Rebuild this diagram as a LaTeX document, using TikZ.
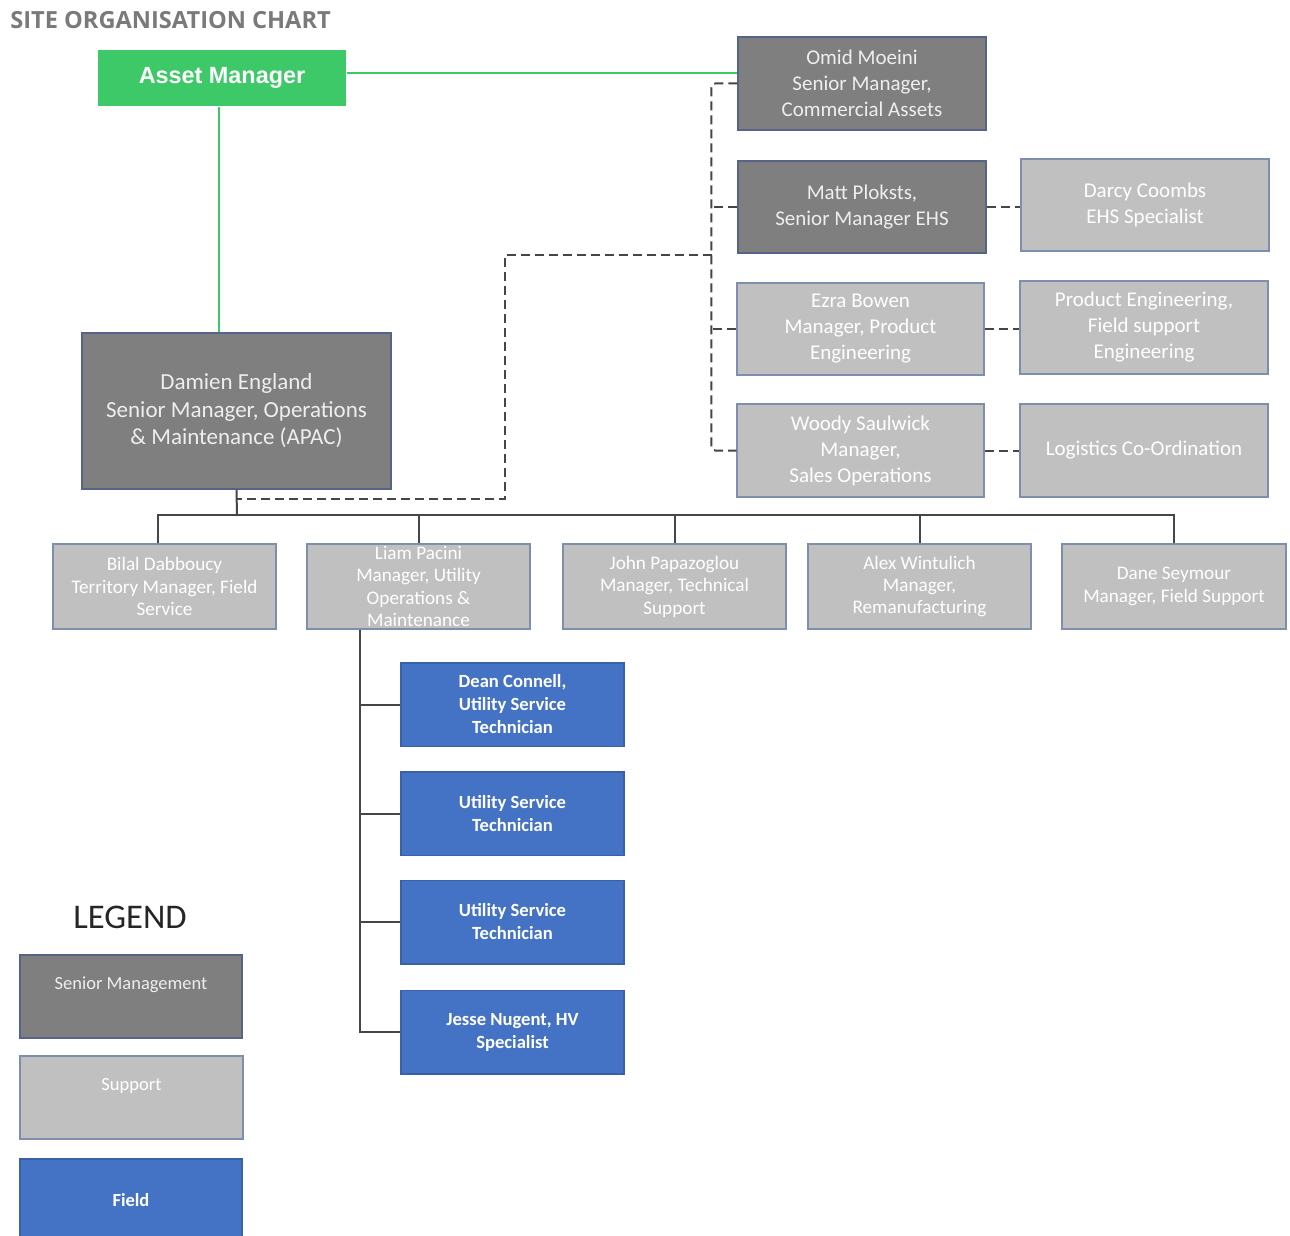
\documentclass[tikz,border=0pt]{standalone}
\usepackage{fontspec}
\setmainfont{Carlito}
\newfontfamily\arialfont{Liberation Sans}
\newfontfamily\titlefont{Open Sans}
\usetikzlibrary{calc}
\definecolor{assetgreen}{RGB}{61,201,103}
\definecolor{srgray}{RGB}{127,127,127}
\definecolor{supgray}{RGB}{192,192,192}
\definecolor{fieldblue}{RGB}{68,114,196}
\definecolor{srborder}{RGB}{85,100,135}
\definecolor{supborder}{RGB}{125,142,175}
\definecolor{linecol}{RGB}{70,70,70}
\definecolor{titlegray}{RGB}{122,122,122}
\definecolor{srtext}{RGB}{238,238,238}
\begin{document}
\begin{tikzpicture}[x=0.5pt,y=-0.5pt,
  base/.style={draw, line width=0.75pt, inner sep=0pt, align=center, anchor=center},
  senior/.style={base, draw=srborder, fill=srgray, text=srtext, font=\fontsize{10.5}{13}\selectfont},
  support/.style={base, draw=supborder, fill=supgray, text=white, font=\fontsize{10.5}{13}\selectfont},
  rowbox/.style={support, minimum width=111.5pt, minimum height=42.5pt, font=\fontsize{9.6}{11.2}\selectfont},
  field/.style={base, draw=fieldblue!85!black, fill=fieldblue, text=white, minimum width=111.5pt, minimum height=41.75pt, font=\bfseries\fontsize{9.3}{11.5}\selectfont},
  conn/.style={draw=linecol, line width=1pt},
  dconn/.style={draw=linecol, line width=1pt, dash pattern=on 4.5pt off 2.5pt},
  greenline/.style={draw=assetgreen, line width=1pt}
]
\useasboundingbox (0,0) rectangle (1290,1236);
\fill[white] (0,0) rectangle (1290,1236);

% title
\node[anchor=west, inner sep=0pt, font=\titlefont\bfseries\fontsize{11.8}{14}\selectfont, text=titlegray] (title) at (10,20) {SITE ORGANISATION CHART};

% asset manager
\node[base, draw=none, fill=assetgreen, minimum width=124pt, minimum height=28pt, text=white, font=\arialfont\bfseries\fontsize{11.7}{14}\selectfont] (asset) at (222,78) {Asset Manager};

% right column
\node[senior, minimum width=124pt, minimum height=46.5pt] (omid) at (862,83.5) {Omid Moeini\\Senior Manager,\\Commercial Assets};
\node[senior, minimum width=124pt, minimum height=46pt] (matt) at (862,207) {Matt Ploksts,\\Senior Manager EHS};
\node[support, minimum width=124pt, minimum height=46pt] (darcy) at (1145,205) {Darcy Coombs\\EHS Specialist};
\node[support, minimum width=123.5pt, minimum height=46pt] (ezra) at (860.5,329) {Ezra Bowen\\Manager, Product\\Engineering};
\node[support, minimum width=124pt, minimum height=46.5pt] (prodeng) at (1144,327.5) {Product Engineering,\\Field support\\Engineering};
\node[support, minimum width=123.5pt, minimum height=46.5pt] (woody) at (860.5,450.5) {Woody Saulwick\\Manager,\\Sales Operations};
\node[support, minimum width=124pt, minimum height=46.5pt] (logistics) at (1144,450.5) {Logistics Co-Ordination};

% Damien
\node[senior, minimum width=154.5pt, minimum height=78pt, font=\fontsize{11.5}{13.75}\selectfont] (damien) at (236.5,411) {Damien England\\Senior Manager, Operations\\\& Maintenance (APAC)};

% row of managers
\node[rowbox] (bilal) at (164.5,586.5) {Bilal Dabboucy\\Territory Manager, Field\\Service};
\node[rowbox] (liam) at (418.5,586.5) {Liam Pacini\\Manager, Utility\\Operations \&\\Maintenance};
\node[rowbox] (john) at (674.5,586.5) {John Papazoglou\\Manager, Technical\\Support};
\node[rowbox] (alex) at (919.5,586.5) {Alex Wintulich\\Manager,\\Remanufacturing};
\node[rowbox, minimum width=112pt] (dane) at (1174,586.5) {Dane Seymour\\Manager, Field Support};

% field staff
\node[field] (dean) at (512.5,704.5) {Dean Connell,\\Utility Service\\Technician};
\node[field] (ust1) at (512.5,813.5) {Utility Service\\Technician};
\node[field] (ust2) at (512.5,922) {Utility Service\\Technician};
\node[field] (jesse) at (512.5,1032) {Jesse Nugent, HV\\Specialist};

% legend
\node[font=\fontsize{17.3}{20}\selectfont, text=black!85] (legend) at (130,917) {LEGEND};
\node[base, draw=srborder, fill=srgray, minimum width=111pt, minimum height=41.5pt] (lsm) at (131,996.5) {};
\node[text=srtext, font=\fontsize{9.25}{11}\selectfont] (lsmt) at ([yshift=5.75pt]lsm.center) {Senior Management};
\node[base, draw=supborder, fill=supgray, minimum width=111.5pt, minimum height=41.5pt] (lsup) at (131.5,1097.5) {};
\node[text=white, font=\fontsize{9.25}{11}\selectfont] (lsupt) at ([yshift=5.75pt]lsup.center) {Support};
\node[base, draw=fieldblue!85!black, fill=fieldblue, minimum width=111pt, minimum height=41.5pt, text=white, font=\bfseries\fontsize{9.25}{11}\selectfont] (lfield) at (131,1200.5) {Field};

% green connectors
\draw[greenline] ([yshift=2.5pt]asset.east) -- ([yshift=2.5pt]asset.east -| omid.west);
\draw[greenline] ([xshift=-1.5pt]asset.south) -- ([xshift=-1.5pt]asset.south |- damien.north);

% dashed spine
\draw[dconn, rounded corners=2pt] (omid.west) -- ++(-26,0) |- (woody.west);
\draw[dconn] (matt.west) -- ++(-26,0);
\draw[dconn] (ezra.west) -- ++(-25,0);
\draw[dconn] (matt.east) -- (darcy.west |- matt.east);
\draw[dconn] (ezra.east) -- (prodeng.west |- ezra.east);
\draw[dconn] (woody.east) -- (logistics.west |- woody.east);
\coordinate (spineD) at (712,255);
\coordinate (dj) at (237,499);
\draw[dconn] (spineD) -| ($(dj)+(268,0)$) -- (dj);

% solid tree
\coordinate (bus) at (237,516);
\draw[conn] (damien.south) -- (bus);
\draw[conn] ([xshift=-3.25pt]bilal.north) -- ++(0,-28) -| (dane.north);
\draw[conn] (liam.north) -- (liam.north |- bus);
\draw[conn] (john.north) -- (john.north |- bus);
\draw[conn] (alex.north) -- (alex.north |- bus);

\draw[conn] ([xshift=-29.25pt]liam.south) |- (jesse.west);
\draw[conn] (dean.west) -- ++(-41,0);
\draw[conn] (ust1.west) -- ++(-41,0);
\draw[conn] (ust2.west) -- ++(-41,0);
\end{tikzpicture}
\end{document}
